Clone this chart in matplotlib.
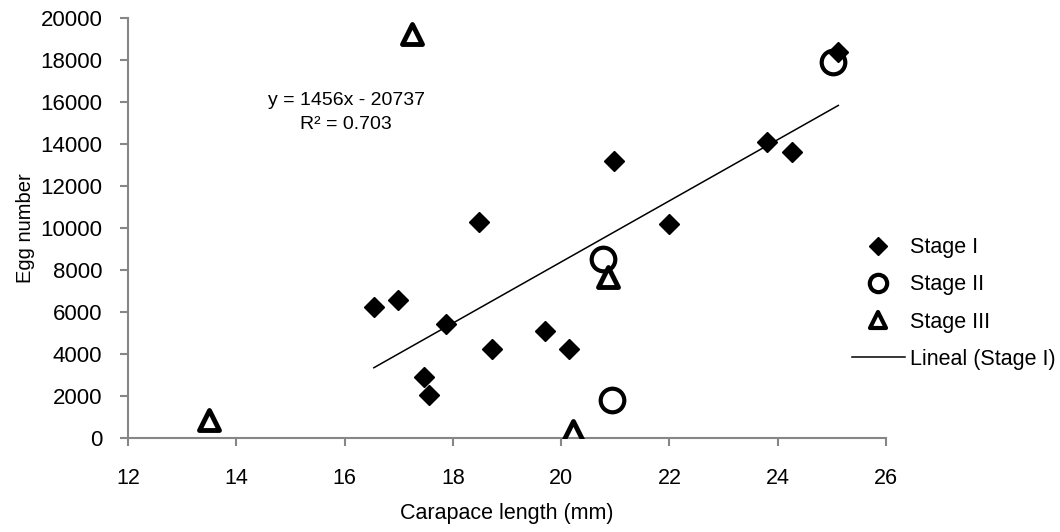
import matplotlib
matplotlib.use("Agg")
import matplotlib.pyplot as plt
from matplotlib.lines import Line2D
from matplotlib.markers import MarkerStyle
import numpy as np

# Data
stage1_x = [16.54, 16.99, 17.88, 18.49, 18.72, 19.71, 20.15, 17.47, 17.56, 22.0, 20.98, 23.81, 24.26, 25.12]
stage1_y = [6250, 6570, 5430, 10290, 4250, 5110, 4250, 2890, 2060, 10190, 13200, 14110, 13600, 18400]
stage2_x = [20.77, 20.94, 25.02]
stage2_y = [8540, 1810, 17890]
stage3_x = [13.49, 17.25, 20.87, 20.21]
stage3_y = [880, 19250, 7680, 350]

fit_slope = 1456
fit_intercept = -20737
fit_r2 = 0.703

x_ticks = [12, 14, 16, 18, 20, 22, 24, 26]
y_ticks = [0, 2000, 4000, 6000, 8000, 10000, 12000, 14000, 16000, 18000, 20000]

FONT = ["Liberation Sans", "DejaVu Sans"]
AXIS_GREY = "#868686"

plt.rcParams["font.family"] = FONT

fig = plt.figure(figsize=(10.6, 5.32), dpi=100)
ax = fig.add_axes([128 / 1060, 1 - 438 / 532, (886 - 128) / 1060, 420 / 532])

tri = MarkerStyle("^", joinstyle="round")

ax.plot(stage1_x, stage1_y, ls="none", marker="D", ms=10.5, color="black", zorder=3)
ax.plot(stage2_x, stage2_y, ls="none", marker="o", ms=17, mfc="none", mec="black", mew=3, zorder=3)
ax.plot(stage3_x, stage3_y, ls="none", marker=tri, ms=14, mfc="none", mec="black", mew=3.5, zorder=3)

# linear trend line over the Stage I range
xx = np.array([min(stage1_x), max(stage1_x)])
ax.plot(xx, fit_slope * xx + fit_intercept, color="black", lw=1.1, zorder=2)

ax.text(16.03, 16095, f"y = {fit_slope}x - {-fit_intercept}", ha="center", va="center", fontsize=14)
ax.text(16.03, 14905, f"R² = {fit_r2}", ha="center", va="center", fontsize=14)

ax.set_xlim(12, 26)
ax.set_ylim(0, 20000)
ax.set_xticks(x_ticks)
ax.set_yticks(y_ticks)
for s in ["top", "right"]:
    ax.spines[s].set_visible(False)
for s in ["left", "bottom"]:
    ax.spines[s].set_color(AXIS_GREY)
    ax.spines[s].set_linewidth(1.5)
ax.tick_params(colors=AXIS_GREY, length=5.5, width=1.5, labelcolor="black")
ax.tick_params(axis="x", pad=16, labelsize=15.5)
ax.tick_params(axis="y", pad=13, labelsize=16)

ax.set_xlabel("Carapace length (mm)", fontsize=15.5, labelpad=10)
ax.set_ylabel("Egg number", fontsize=14.5, labelpad=4)

handles = [
    Line2D([], [], ls="none", marker="D", ms=9, color="black"),
    Line2D([], [], ls="none", marker="o", ms=12.5, mfc="none", mec="black", mew=3),
    Line2D([], [], ls="none", marker=tri, ms=11, mfc="none", mec="black", mew=3),
    Line2D([], [], color="black", lw=1.1),
]
labels = ["Stage I", "Stage II", "Stage III", "Lineal (Stage I)"]
fig.legend(handles, labels, loc="center left", bbox_to_anchor=(852 / 1060, 1 - 303.5 / 532),
           frameon=False, prop={"size": 15.5}, handlelength=2.45,
           handletextpad=0.25, labelspacing=0.75, borderaxespad=0, borderpad=0)

fig.savefig("out.png", dpi=100)
